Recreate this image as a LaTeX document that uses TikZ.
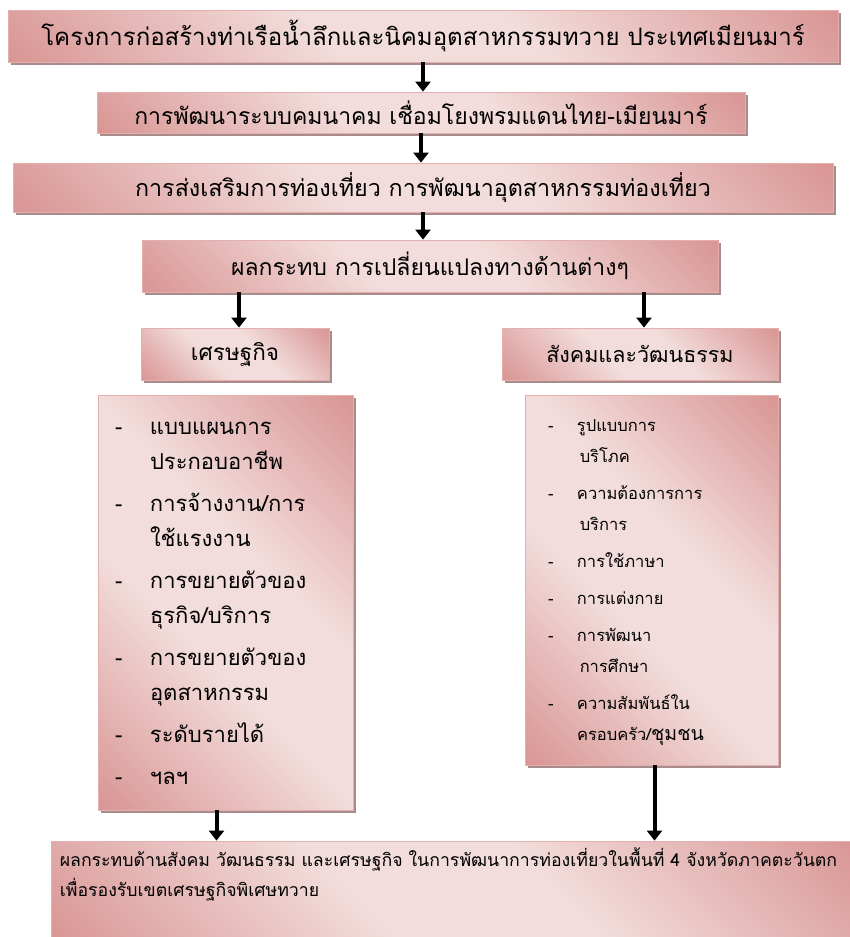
\documentclass[tikz,border=0pt]{standalone}
\usepackage{fontspec}
\newfontfamily\thaifont[Script=Thai]{Loma}
\usetikzlibrary{arrows.meta,shadows}

\definecolor{rosedark}{RGB}{217,150,148}
\definecolor{roselight}{RGB}{242,221,220}
\definecolor{roseline}{RGB}{228,176,175}
\definecolor{shadowgray}{RGB}{168,140,140}

\pgfdeclarehorizontalshading{rosy}{100bp}{color(0bp)=(rosedark); color(15bp)=(rosedark);
  color(42bp)=(roselight); color(58bp)=(roselight); color(85bp)=(rosedark); color(100bp)=(rosedark)}

\tikzset{
  box/.style={draw=roseline, line width=0.8pt, shading=rosy, shading angle=45,
    drop shadow={shadow xshift=3pt, shadow yshift=-3pt, fill=shadowgray, opacity=1},
    inner sep=0pt, font=\thaifont},
  arr/.style={line width=4pt, -{Triangle[width=15pt,length=10pt]}}
}

\begin{document}
\begin{tikzpicture}[x=1pt,y=-1pt]
    \useasboundingbox (0,0) rectangle (850,937);
    \clip (0,0) rectangle (850,937);

    % chain of boxes
    \node[box, minimum width=830pt, minimum height=52pt, font=\thaifont\fontsize{24}{28}\selectfont] (project) at (423,36)
        {โครงการก่อสร้างท่าเรือน้ำลึกและนิคมอุตสาหกรรมทวาย ประเทศเมียนมาร์};
    \node[box, minimum width=648pt, minimum height=41pt, font=\thaifont\fontsize{23}{26}\selectfont] (transport) at (421,112.5)
        {การพัฒนาระบบคมนาคม เชื่อมโยงพรมแดนไทย-เมียนมาร์};
    \node[box, minimum width=820pt, minimum height=49pt, font=\thaifont\fontsize{23.3}{26}\selectfont] (tourism) at (423,187.5)
        {การส่งเสริมการท่องเที่ยว การพัฒนาอุตสาหกรรมท่องเที่ยว};
    \node[box, minimum width=576pt, minimum height=52pt, font=\thaifont\fontsize{23}{26}\selectfont] (impact) at (430,266)
        {ผลกระทบ การเปลี่ยนแปลงทางด้านต่างๆ};

    \node[box, minimum width=188pt, minimum height=52pt, font=\thaifont\fontsize{22.5}{26}\selectfont] (econ) at (235,354) {เศรษฐกิจ};
    \node[box, minimum width=276pt, minimum height=52pt, font=\thaifont\fontsize{21.5}{26}\selectfont] (social) at (640,354) {สังคมและวัฒนธรรม};

    % lists
    \node[box, minimum width=255pt, minimum height=415pt, font=\thaifont\fontsize{22}{35}\selectfont] (econlist) at (225.5,602.5) {%
        \begin{tabular}{@{}p{35pt}@{}p{186pt}@{}}
        - & แบบแผนการ\\
          & ประกอบอาชีพ\\[7pt]
        - & การจ้างงาน/การ\\
          & ใช้แรงงาน\\[7pt]
        - & การขยายตัวของ\\
          & ธุรกิจ/บริการ\\[7pt]
        - & การขยายตัวของ\\
          & อุตสาหกรรม\\[7pt]
        - & ระดับรายได้\\[7pt]
        - & ฯลฯ
        \end{tabular}};
    \node[box, minimum width=253pt, minimum height=370pt, font=\thaifont\fontsize{16.5}{31}\selectfont] (sociallist) at (651.5,580) {%
        \begin{tabular}{@{}p{29pt}@{}p{178pt}@{}}
        - & รูปแบบการ\\
          & \,บริโภค\\[6pt]
        - & ความต้องการการ\\
          & \,บริการ\\[6pt]
        - & การใช้ภาษา\\[6pt]
        - & การแต่งกาย\\[6pt]
        - & การพัฒนา\\
          & \,การศึกษา\\[6pt]
        - & ความสัมพันธ์ใน\\
          & ครอบครัว/{\fontsize{19.5}{31}\selectfont ชุมชน}
        \end{tabular}};

    % bottom box
    \node[box, minimum width=809pt, minimum height=104pt] (result) at (455.5,893) {};
    \node[anchor=north west, align=left, inner sep=0pt, font=\thaifont\fontsize{17.7}{30}\selectfont] (resulttext)
        at ([xshift=9pt, yshift=-7pt]result.north west)
        {ผลกระทบด้านสังคม วัฒนธรรม และเศรษฐกิจ ในการพัฒนาการท่องเที่ยวในพื้นที่ 4 จังหวัดภาคตะวันตก\\
         เพื่อรองรับเขตเศรษฐกิจพิเศษทวาย};

    % arrows
    \draw[arr] (project.south) -- (project.south |- transport.north);
    \draw[arr] (transport.south) -- (transport.south |- tourism.north);
    \draw[arr] (tourism.south) -- (tourism.south |- impact.north);
    \draw[arr] ([xshift=4pt]econ.north |- impact.south) -- ([xshift=4pt]econ.north);
    \draw[arr] ([xshift=4pt]social.north |- impact.south) -- ([xshift=4pt]social.north);
    \draw[arr] ([xshift=-9pt]econlist.south) -- ([xshift=-9pt]econlist.south |- result.north);
    \draw[arr] ([xshift=3pt]sociallist.south) -- ([xshift=3pt]sociallist.south |- result.north);
\end{tikzpicture}
\end{document}
